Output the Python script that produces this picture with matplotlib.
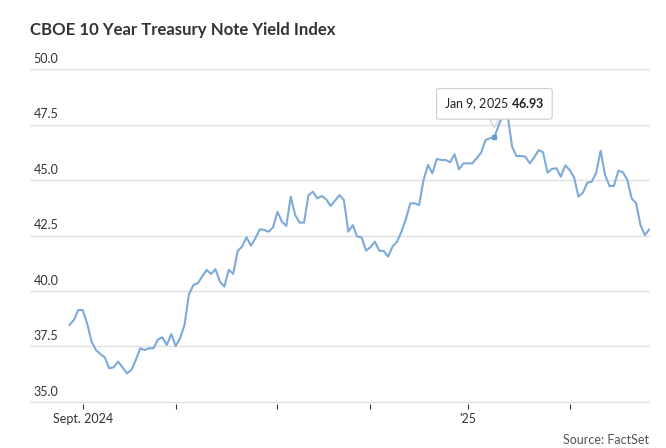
import matplotlib
matplotlib.use("Agg")
import matplotlib.pyplot as plt
import matplotlib.transforms as mtransforms
import pandas as pd

# Dados (fechamento diário, dias úteis)
inicio = "2024-08-28"
fim = "2025-02-27"
valores = [
    38.47, 38.69, 39.14, 39.14, 38.54, 37.72, 37.34, 37.16, 37.01, 36.52,
    36.56, 36.82, 36.56, 36.29, 36.44, 36.89, 37.42, 37.34, 37.42, 37.42,
    37.82, 37.91, 37.57, 38.06, 37.52, 37.87, 38.47, 39.85, 40.27, 40.35,
    40.65, 40.95, 40.77, 40.98, 40.42, 40.20, 40.95, 40.77, 41.80, 42.00,
    42.42, 42.04, 42.37, 42.78, 42.75, 42.67, 42.87, 43.57, 43.12, 42.93,
    44.25, 43.42, 43.08, 43.08, 44.32, 44.47, 44.17, 44.28, 44.13, 43.83,
    44.07, 44.32, 44.10, 42.67, 42.97, 42.45, 42.42, 41.82, 41.97, 42.22,
    41.82, 41.80, 41.55, 42.00, 42.22, 42.67, 43.23, 43.95, 43.95, 43.87,
    45.00, 45.68, 45.30, 45.95, 45.90, 45.90, 45.80, 46.16, 45.48, 45.75,
    45.75, 45.75, 45.98, 46.23, 46.80, 46.88, 46.93, 47.48, 47.95, 47.90,
    46.50, 46.08, 46.08, 46.05, 45.75, 46.02, 46.35, 46.25, 45.33, 45.50,
    45.53, 45.15, 45.66, 45.45, 45.12, 44.25, 44.43, 44.88, 44.92, 45.33,
    46.32, 45.23, 44.73, 44.73, 45.42, 45.35, 45.03, 44.18, 43.95, 42.97,
    42.52, 42.78,
]
datas = pd.bdate_range(inicio, fim)

y_ticks = [35.0, 37.5, 40.0, 42.5, 45.0, 47.5, 50.0]
rotulos_x = {"2024-09": "Sept. 2024", "2025-01": "'25"}
destaque_data = "2025-01-09"
destaque_rotulo = "Jan 9, 2025"

titulo = "CBOE 10 Year Treasury Note Yield Index"
fonte = "Source: FactSet"

plt.rcParams["font.family"] = ["Lato", "DejaVu Sans"]
plt.rcParams["mathtext.fontset"] = "custom"
plt.rcParams["mathtext.rm"] = "Lato"
plt.rcParams["mathtext.bf"] = "Lato:bold"

cor_linha = "#7DAAD8"
cor_texto = "#333333"
cor_grade = "#e0e0e0"

fig = plt.figure(figsize=(6.66, 4.48), dpi=100)
ax = fig.add_axes([30 / 666, (448 - 404.2) / 448, 620 / 666, 337.4 / 448])

x = list(range(len(valores)))
ax.plot(x, valores, color=cor_linha, linewidth=1.5, solid_joinstyle="round")

ax.set_ylim(34.9, 50.1)
ax.set_xlim(-8.9, len(valores) - 0.85)

# grade horizontal
for v in y_ticks:
    ax.axhline(v, color=cor_grade, linewidth=1, zorder=0)

# rótulos do eixo y acima das linhas de grade
trans = mtransforms.offset_copy(ax.get_yaxis_transform(), fig=fig, x=0, y=3, units="points")
for v in y_ticks:
    ax.text(0.006, v, f"{v:.1f}", transform=trans, ha="left", va="bottom",
            fontsize=9, color=cor_texto)

# marcas no início de cada mês
meses = pd.Series(datas.strftime("%Y-%m"))
inicio_mes = [i for i in range(len(meses)) if i == 0 or meses[i] != meses[i - 1]]
inicio_mes = [i for i in inicio_mes if datas[i].day <= 5]
ax.set_xticks(inicio_mes)
ax.set_xticklabels([rotulos_x.get(meses[i], "") for i in inicio_mes])
ax.tick_params(axis="x", length=3.6, width=0.8, color=cor_texto, pad=3,
               labelsize=9, labelcolor=cor_texto)
ax.tick_params(axis="y", left=False, labelleft=False)
for s in ax.spines.values():
    s.set_visible(False)

# destaque (tooltip)
i_d = list(datas.strftime("%Y-%m-%d")).index(destaque_data)
v_d = valores[i_d]
ax.plot([i_d], [v_d], marker="s", markersize=2.5, color="#6a9acb", zorder=4)
ax.annotate(destaque_rotulo + " $\\mathbf{" + f"{v_d:.2f}" + "}$",
            xy=(i_d, v_d), xytext=(0, 24), textcoords="offset points",
            ha="center", va="center", fontsize=9, color="#222222",
            bbox=dict(boxstyle="round,pad=0.6,rounding_size=0.2", fc="white", ec="#cccccc", lw=0.8),
            arrowprops=dict(arrowstyle="wedge,tail_width=0.7", fc="white", ec="#cccccc",
                            lw=0.8, shrinkA=0, shrinkB=7),
            zorder=5)

fig.text(30 / 666, 1 - 30 / 448, titulo, fontsize=12.1, fontweight="bold",
         color=cor_texto, ha="left", va="center")
fig.text(649 / 666, 1 - 440 / 448, fonte, fontsize=9, color="#555555",
         ha="right", va="center")

fig.savefig("out.png", dpi=100)
